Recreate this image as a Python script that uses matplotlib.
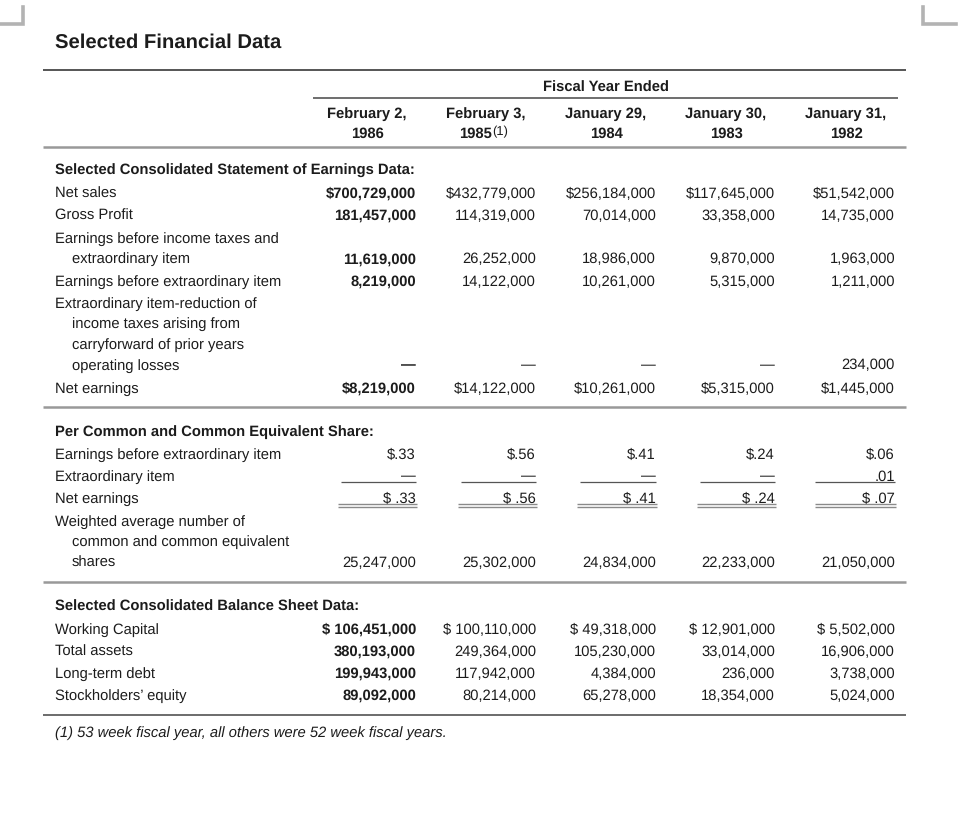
import matplotlib
matplotlib.use('agg')
import matplotlib.pyplot as plt

plt.rcParams['font.family'] = ['Liberation Sans', 'DejaVu Sans']
plt.rcParams['text.hinting'] = 'no_hinting'

########################################################################
# data -----------------------------------------------------------------
########################################################################
hdr_line1 = ["February 2,", "February 3,", "January 29,", "January 30,", "January 31,"]
hdr_line2 = ["1986", "1985", "1984", "1983", "1982"]

net_sales = ["$700,729,000", "$432,779,000", "$256,184,000", "$117,645,000", "$51,542,000"]
gross_profit = ["181,457,000", "114,319,000", "70,014,000", "33,358,000", "14,735,000"]
earn_before_tax = ["11,619,000", "26,252,000", "18,986,000", "9,870,000", "1,963,000"]
earn_before_extra = ["8,219,000", "14,122,000", "10,261,000", "5,315,000", "1,211,000"]
extra_item = ["\u2014", "\u2014", "\u2014", "\u2014", "234,000"]
net_earnings = ["$8,219,000", "$14,122,000", "$10,261,000", "$5,315,000", "$1,445,000"]

eps_before = ["$.33", "$.56", "$.41", "$.24", "$.06"]
eps_extra = ["\u2014", "\u2014", "\u2014", "\u2014", ".01"]
eps_net = ["$ .33", "$ .56", "$ .41", "$ .24", "$ .07"]
avg_shares = ["25,247,000", "25,302,000", "24,834,000", "22,233,000", "21,050,000"]

working_capital = ["$ 106,451,000", "$ 100,110,000", "$ 49,318,000", "$ 12,901,000", "$ 5,502,000"]
total_assets = ["380,193,000", "249,364,000", "105,230,000", "33,014,000", "16,906,000"]
long_term_debt = ["199,943,000", "117,942,000", "4,384,000", "236,000", "3,738,000"]
equity = ["89,092,000", "80,214,000", "65,278,000", "18,354,000", "5,024,000"]

# (label lines, values, first column bold?)
earn_rows = [
    (["Net sales"], net_sales, True),
    (["Gross Profit"], gross_profit, True),
    (["Earnings before income taxes and", "extraordinary item"], earn_before_tax, True),
    (["Earnings before extraordinary item"], earn_before_extra, True),
    (["Extraordinary item-reduction of", "income taxes arising from",
      "carryforward of prior years", "operating losses"], extra_item, True),
    (["Net earnings"], net_earnings, True),
]
share_rows = [
    (["Earnings before extraordinary item"], eps_before, False),
    (["Extraordinary item"], eps_extra, False),
    (["Net earnings"], eps_net, False),
    (["Weighted average number of", "common and common equivalent", "shares"], avg_shares, False),
]
bal_rows = [
    (["Working Capital"], working_capital, True),
    (["Total assets"], total_assets, True),
    (["Long-term debt"], long_term_debt, True),
    (["Stockholders\u2019 equity"], equity, True),
]

########################################################################
# layout ---------------------------------------------------------------
########################################################################
W, H = 962, 820
fig = plt.figure(figsize=(W / 100, H / 100), dpi=100)
ax = fig.add_axes([0, 0, 1, 1])
ax.set_xlim(0, W)
ax.set_ylim(H, 0)
ax.axis('off')

TXT = '#1c1c1c'
FS = 10.6
DY = 1.8    # text sits a touch lower than the va='center' box
col_right = [416, 536, 656, 775, 895]
col_center = [367, 486, 606, 726, 846]
x_lab, x_ind = 55, 72
LS = 20.6   # wrapped line spacing

def hline(x0, x1, y, c='#888888', lw=1.6):
    ax.plot([x0, x1], [y, y], color=c, lw=lw, solid_capstyle='butt')

def txt(x, y, s, **kw):
    kw.setdefault('fontsize', FS)
    kw.setdefault('color', TXT)
    kw.setdefault('va', 'center')
    return ax.text(x, y + DY, s, **kw)

# corner marks
ax.plot([0, 23.5, 23.5], [25, 25, 8], color='#b3b3b3', lw=2.6, solid_joinstyle='miter')
ax.plot([923.5, 923.5, 956], [8, 25, 25], color='#b3b3b3', lw=2.6, solid_joinstyle='miter')

txt(55, 40.5, "Selected Financial Data", fontsize=14.6, fontweight='bold', ha='left')

hline(43, 906, 71, c='#555555', lw=1.4)
txt(606, 86, "Fiscal Year Ended", fontweight='bold', ha='center')
hline(313, 898, 98.5, c='#555555', lw=1.2)
for i in range(5):
    txt(col_center[i], 112, hdr_line1[i], fontweight='bold', ha='center')
    if i == 1:
        txt(col_center[i] + 6, 132.5, hdr_line2[i], fontsize=10.6, fontweight='bold', ha='right')
        txt(col_center[i] + 6, 130, "(1)", fontsize=9.4, ha='left')
    else:
        txt(col_center[i], 132.5, hdr_line2[i], fontsize=10.6, fontweight='bold', ha='center')
hline(43, 906, 148, c='#999999', lw=1.8)

def section(title, y_title, rows, y_starts):
    txt(x_lab, y_title, title, fontweight='bold', ha='left')
    ends = []
    for (lines, vals, bold1), y0 in zip(rows, y_starts):
        for k, ln in enumerate(lines):
            txt(x_lab if k == 0 else x_ind, y0 + k * LS, ln, ha='left')
        yv = y0 + (len(lines) - 1) * LS
        for i, v in enumerate(vals):
            txt(col_right[i], yv, v, ha='right',
                fontweight='bold' if (bold1 and i == 0) else 'normal')
        ends.append(yv)
    return ends

section("Selected Consolidated Statement of Earnings Data:", 169, earn_rows,
        [192, 214, 237, 280, 302, 387])
hline(43, 906, 408, c='#999999', lw=1.8)

ends = section("Per Common and Common Equivalent Share:", 430, share_rows,
               [453, 475, 497, 520])
single_left = [341, 461, 580, 700, 815]
double_left = [338, 458, 577, 697, 815]
for i in range(5):
    hline(single_left[i], col_right[i], ends[1] + 7.5, c='#555555', lw=0.9)
    hline(double_left[i], col_right[i] + 1, ends[2] + 8, c='#8a8a8a', lw=1.0)
    hline(double_left[i], col_right[i] + 1, ends[2] + 10.5, c='#8a8a8a', lw=1.0)
hline(43, 906, 583, c='#999999', lw=1.8)

section("Selected Consolidated Balance Sheet Data:", 605, bal_rows,
        [628, 650, 672, 694])
hline(43, 906, 716, c='#444444', lw=1.1)

txt(x_lab, 731, "(1) 53 week fiscal year, all others were 52 week fiscal years.",
    style='italic', ha='left')

fig.savefig('out.png', dpi=100, facecolor='white')
